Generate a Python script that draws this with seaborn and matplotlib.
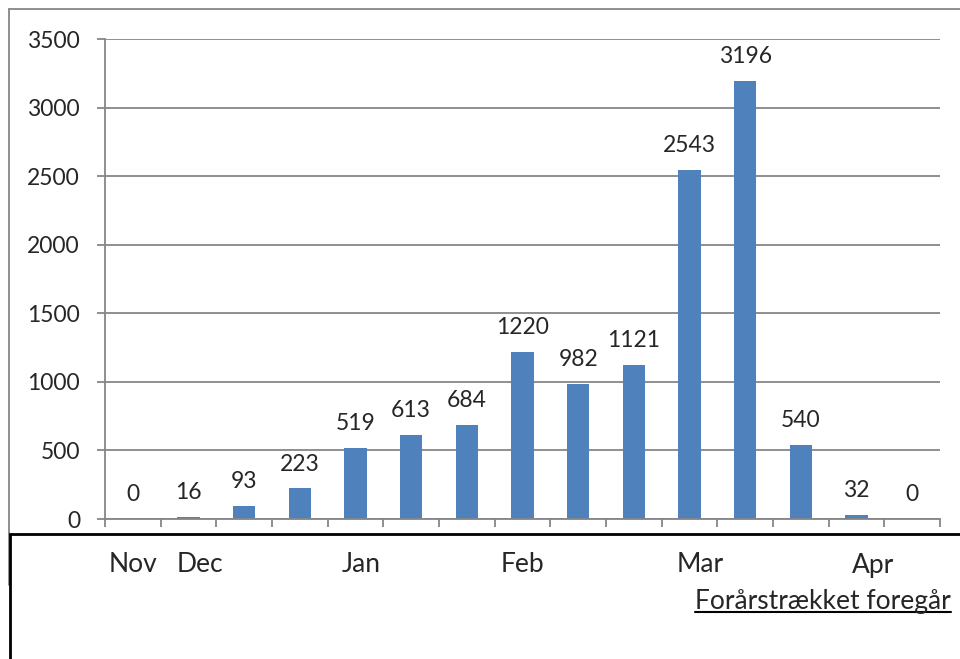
import matplotlib
matplotlib.use("Agg")
import matplotlib.pyplot as plt
import seaborn as sns
import pandas as pd
from matplotlib.lines import Line2D
from matplotlib.patches import Rectangle

# data
perioder = list(range(15))
antal = [0, 16, 93, 223, 519, 613, 684, 1220, 982, 1121, 2543, 3196, 540, 32, 0]
maaneder = ["Nov", "Dec", "Jan", "Feb", "Mar", "Apr"]
maaned_pos = [0, 1.2, 4.1, 7.0, 10.2, 13.3]
y_ticks = [0, 500, 1000, 1500, 2000, 2500, 3000, 3500]
note = "Forårstrækket foregår"

sns.set_theme(style="white")
plt.rcParams["font.family"] = ["Lato", "DejaVu Sans"]

GRAA = "#868686"
BLAA = "#4F81BD"
TAL_STR = 16.5
TEKST_STR = 19

df = pd.DataFrame({"periode": perioder, "antal": antal})

fig = plt.figure(figsize=(9.6, 6.59), dpi=100)
ax = fig.add_axes([105 / 960, 1 - 519 / 659, (940 - 105) / 960, (519 - 39) / 659])

sns.barplot(data=df, x="periode", y="antal", color=BLAA, saturation=1,
            width=0.4, ax=ax, edgecolor="none")

ax.set_xlim(-0.5, 14.5)
ax.set_ylim(0, 3500)
ax.set_yticks(y_ticks)
ax.set_yticklabels([str(v) for v in y_ticks], fontsize=TAL_STR)
ax.yaxis.grid(True, color=GRAA, lw=1.3)
ax.set_axisbelow(True)
ax.set_xlabel("")
ax.set_ylabel("")

# ticks between categories, no labels on axis
ax.set_xticks([i - 0.5 for i in range(16)])
ax.set_xticklabels([])
ax.tick_params(axis="x", direction="out", length=6, width=1.3, color=GRAA, bottom=True)
ax.tick_params(axis="y", direction="out", length=6, width=1.3, color=GRAA, left=True, pad=12)

for s in ["top", "right"]:
    ax.spines[s].set_visible(False)
for s in ["left", "bottom"]:
    ax.spines[s].set_color(GRAA)
    ax.spines[s].set_linewidth(1.3)

# data labels
for p, v in zip(perioder, antal):
    ax.annotate(str(v), (p, v), xytext=(0, 10), textcoords="offset points",
                ha="center", va="bottom", fontsize=TAL_STR)

# outer grey chart border
fig.add_artist(Line2D([9 / 960, 1], [1 - 9 / 659, 1 - 9 / 659], color=GRAA, lw=1.3))
fig.add_artist(Line2D([9 / 960, 9 / 960], [1 - 9 / 659, 1 - 585 / 659], color=GRAA, lw=1.3))

# black box under the chart
boks = Rectangle((10 / 960, -0.05), 1.0, (659 - 534) / 659 + 0.05,
                 transform=fig.transFigure, facecolor="white",
                 edgecolor="black", lw=2, zorder=5)
fig.add_artist(boks)

# month labels in the box (x from the data axis, y in figure coords)
til_fig = ax.transData + fig.transFigure.inverted()
for navn, pos in zip(maaneder, maaned_pos):
    fx = til_fig.transform((pos, 0))[0]
    fig.text(fx, 1 - 565 / 659, navn, ha="center", va="center",
             fontsize=TEKST_STR, zorder=6)

t_note = fig.text(951 / 960, 1 - 602 / 659, note, ha="right", va="center",
                  fontsize=TEKST_STR, zorder=6)
fig.canvas.draw()
bb = t_note.get_window_extent().transformed(fig.transFigure.inverted())
fig.add_artist(Line2D([bb.x0, bb.x1], [1 - 612 / 659, 1 - 612 / 659],
                      color="black", lw=1.5, zorder=6))

fig.savefig("out.png", dpi=100)
